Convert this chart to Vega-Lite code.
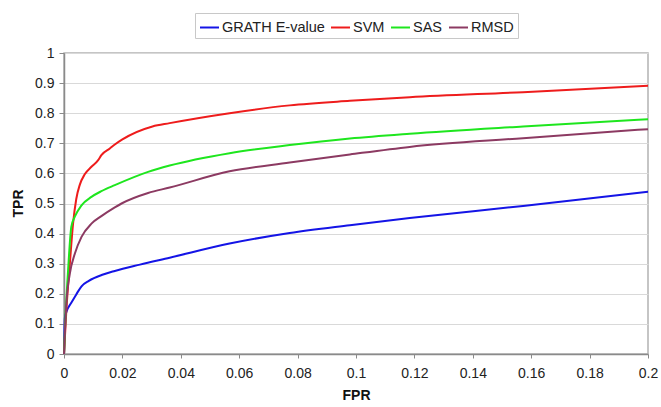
{
  "$schema": "https://vega.github.io/schema/vega-lite/v6.json",
  "width": 584,
  "height": 301,
  "autosize": {"type": "none"},
  "padding": {"left": 64, "top": 53, "right": 13, "bottom": 53},
  "background": "white",
  "config": {
    "font": "Liberation Sans",
    "view": {"stroke": "#b3b3b3", "strokeWidth": 1.5},
    "axis": {
      "labelFont": "Liberation Sans",
      "titleFont": "Liberation Sans",
      "labelFontSize": 14,
      "titleFontSize": 14,
      "titleFontWeight": "bold",
      "labelColor": "#222",
      "titleColor": "#111",
      "domainColor": "#8a8a8a",
      "domainWidth": 1.5,
      "tickColor": "#8a8a8a"
    },
    "legend": {
      "labelFont": "Liberation Sans",
      "labelFontSize": 14.5,
      "labelColor": "#222"
    }
  },
  "data": {
    "values": [
      {"s": "GRATH E-value", "fpr": 0, "tpr": 0},
      {"s": "GRATH E-value", "fpr": 0.0003, "tpr": 0.12},
      {"s": "GRATH E-value", "fpr": 0.0008, "tpr": 0.139},
      {"s": "GRATH E-value", "fpr": 0.0025, "tpr": 0.17},
      {"s": "GRATH E-value", "fpr": 0.0042, "tpr": 0.198},
      {"s": "GRATH E-value", "fpr": 0.006, "tpr": 0.225},
      {"s": "GRATH E-value", "fpr": 0.0085, "tpr": 0.243},
      {"s": "GRATH E-value", "fpr": 0.0134, "tpr": 0.264},
      {"s": "GRATH E-value", "fpr": 0.0174, "tpr": 0.276},
      {"s": "GRATH E-value", "fpr": 0.026, "tpr": 0.297},
      {"s": "GRATH E-value", "fpr": 0.0362, "tpr": 0.32},
      {"s": "GRATH E-value", "fpr": 0.0567, "tpr": 0.367},
      {"s": "GRATH E-value", "fpr": 0.0773, "tpr": 0.402},
      {"s": "GRATH E-value", "fpr": 0.0979, "tpr": 0.428},
      {"s": "GRATH E-value", "fpr": 0.1184, "tpr": 0.452},
      {"s": "GRATH E-value", "fpr": 0.1572, "tpr": 0.492},
      {"s": "GRATH E-value", "fpr": 0.2, "tpr": 0.539},
      {"s": "SVM", "fpr": 0, "tpr": 0},
      {"s": "SVM", "fpr": 0.0008, "tpr": 0.144},
      {"s": "SVM", "fpr": 0.002, "tpr": 0.3},
      {"s": "SVM", "fpr": 0.0031, "tpr": 0.433},
      {"s": "SVM", "fpr": 0.0042, "tpr": 0.515},
      {"s": "SVM", "fpr": 0.0054, "tpr": 0.562},
      {"s": "SVM", "fpr": 0.0071, "tpr": 0.597},
      {"s": "SVM", "fpr": 0.0094, "tpr": 0.622},
      {"s": "SVM", "fpr": 0.0117, "tpr": 0.644},
      {"s": "SVM", "fpr": 0.0128, "tpr": 0.661},
      {"s": "SVM", "fpr": 0.0157, "tpr": 0.683},
      {"s": "SVM", "fpr": 0.0174, "tpr": 0.696},
      {"s": "SVM", "fpr": 0.02, "tpr": 0.713},
      {"s": "SVM", "fpr": 0.0303, "tpr": 0.756},
      {"s": "SVM", "fpr": 0.0362, "tpr": 0.767},
      {"s": "SVM", "fpr": 0.0567, "tpr": 0.8},
      {"s": "SVM", "fpr": 0.0773, "tpr": 0.826},
      {"s": "SVM", "fpr": 0.0979, "tpr": 0.841},
      {"s": "SVM", "fpr": 0.1184, "tpr": 0.853},
      {"s": "SVM", "fpr": 0.1572, "tpr": 0.87},
      {"s": "SVM", "fpr": 0.2, "tpr": 0.891},
      {"s": "SAS", "fpr": 0, "tpr": 0},
      {"s": "SAS", "fpr": 0.0005, "tpr": 0.122},
      {"s": "SAS", "fpr": 0.0014, "tpr": 0.278},
      {"s": "SAS", "fpr": 0.0025, "tpr": 0.422},
      {"s": "SAS", "fpr": 0.0037, "tpr": 0.456},
      {"s": "SAS", "fpr": 0.006, "tpr": 0.494},
      {"s": "SAS", "fpr": 0.0094, "tpr": 0.522},
      {"s": "SAS", "fpr": 0.0128, "tpr": 0.541},
      {"s": "SAS", "fpr": 0.0174, "tpr": 0.561},
      {"s": "SAS", "fpr": 0.0288, "tpr": 0.605},
      {"s": "SAS", "fpr": 0.0362, "tpr": 0.626},
      {"s": "SAS", "fpr": 0.0567, "tpr": 0.667},
      {"s": "SAS", "fpr": 0.0773, "tpr": 0.694},
      {"s": "SAS", "fpr": 0.0979, "tpr": 0.716},
      {"s": "SAS", "fpr": 0.1184, "tpr": 0.732},
      {"s": "SAS", "fpr": 0.1572, "tpr": 0.756},
      {"s": "SAS", "fpr": 0.2, "tpr": 0.78},
      {"s": "RMSD", "fpr": 0, "tpr": 0},
      {"s": "RMSD", "fpr": 0.0008, "tpr": 0.167},
      {"s": "RMSD", "fpr": 0.002, "tpr": 0.267},
      {"s": "RMSD", "fpr": 0.0037, "tpr": 0.333},
      {"s": "RMSD", "fpr": 0.006, "tpr": 0.389},
      {"s": "RMSD", "fpr": 0.0094, "tpr": 0.433},
      {"s": "RMSD", "fpr": 0.0128, "tpr": 0.458},
      {"s": "RMSD", "fpr": 0.0174, "tpr": 0.487},
      {"s": "RMSD", "fpr": 0.0197, "tpr": 0.5},
      {"s": "RMSD", "fpr": 0.0288, "tpr": 0.535},
      {"s": "RMSD", "fpr": 0.0362, "tpr": 0.553},
      {"s": "RMSD", "fpr": 0.0567, "tpr": 0.607},
      {"s": "RMSD", "fpr": 0.0773, "tpr": 0.636},
      {"s": "RMSD", "fpr": 0.0979, "tpr": 0.663},
      {"s": "RMSD", "fpr": 0.1184, "tpr": 0.688},
      {"s": "RMSD", "fpr": 0.1572, "tpr": 0.717},
      {"s": "RMSD", "fpr": 0.2, "tpr": 0.747}
    ]
  },
  "mark": {"type": "line", "strokeWidth": 2, "interpolate": "monotone"},
  "encoding": {
    "x": {
      "field": "fpr",
      "type": "quantitative",
      "title": "FPR",
      "scale": {"domain": [0, 0.2], "nice": false, "zero": true},
      "axis": {
        "values": [0, 0.02, 0.04, 0.06, 0.08, 0.1, 0.12, 0.14, 0.16, 0.18, 0.2],
        "format": "~g",
        "grid": false,
        "tickSize": 4,
        "labelPadding": 8,
        "labelFlush": false,
        "titlePadding": 8
      }
    },
    "y": {
      "field": "tpr",
      "type": "quantitative",
      "title": "TPR",
      "scale": {"domain": [0, 1], "nice": false},
      "axis": {
        "values": [0, 0.1, 0.2, 0.3, 0.4, 0.5, 0.6, 0.7, 0.8, 0.9, 1],
        "format": "~g",
        "grid": true,
        "gridColor": "#d9d9d9",
        "gridWidth": 1.2,
        "tickSize": 5,
        "labelPadding": 5,
        "labelFlush": false,
        "titleX": -46,
        "titleY": 150,
        "titleBaseline": "middle",
        "titleAngle": -90
      }
    },
    "color": {
      "field": "s",
      "type": "nominal",
      "sort": ["GRATH E-value", "SVM", "SAS", "RMSD"],
      "scale": {
        "domain": ["GRATH E-value", "SVM", "SAS", "RMSD"],
        "range": ["#1414e6", "#ee1c1c", "#1ee61e", "#8c3a62"]
      },
      "legend": {
        "title": null,
        "orient": "none",
        "direction": "horizontal",
        "legendX": 131,
        "legendY": -40,
        "symbolType": "stroke",
        "symbolSize": 361,
        "symbolStrokeWidth": 2,
        "labelOffset": 2,
        "columnPadding": 2,
        "padding": 4,
        "strokeColor": "#c8c8c8",
        "fillColor": "white"
      }
    },
    "order": {"value": 0}
  }
}
